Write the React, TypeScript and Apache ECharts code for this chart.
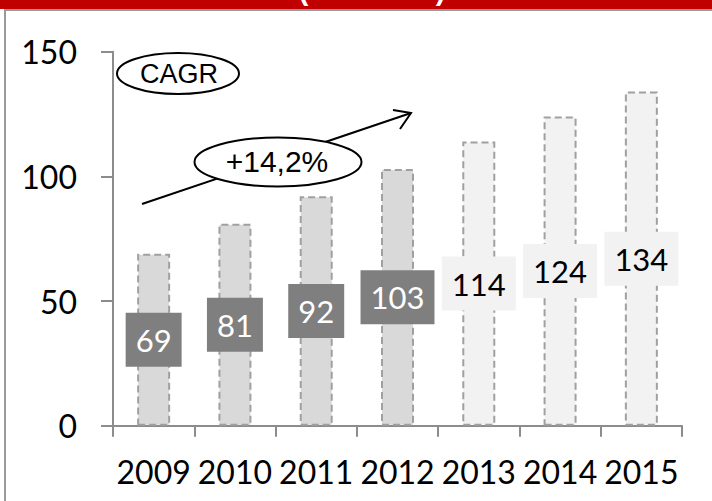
import React, { useEffect, useRef } from "react";
import * as echarts from "echarts";

const years = ["2009", "2010", "2011", "2012", "2013", "2014", "2015"];
const values = [69, 81, 92, 103, 114, 124, 134];
const isForecast = [false, false, false, false, true, true, true];
const yTicks = { min: 0, max: 150, interval: 50 };
const cagrTitle = "CAGR";
const cagrValue = "+14,2%";
const headerText = "(Mio. EUR)";

export default function App() {
  const ref = useRef<HTMLDivElement>(null);
  useEffect(() => {
    if (!ref.current) return;
    const chart = echarts.init(ref.current, null, { renderer: "svg" });
    const data = values.map((v, i) => {
      const f = isForecast[i];
      return {
        value: v,
        itemStyle: {
          color: f ? "#F2F2F2" : "#D9D9D9",
          borderColor: "#A0A0A0",
          borderWidth: 2,
          borderType: [7, 4],
        },
        label: {
          show: true,
          position: "inside",
          color: f ? "#000000" : "#FFFFFF",
          backgroundColor: f ? "#F2F2F2" : "#7F7F7F",
          padding: [9, 10],
          fontSize: 31,
          lineHeight: 36,
          fontFamily: "Lato",
        },
      };
    });
    chart.setOption({
      animation: false,
      grid: { left: 113, right: 30, top: 51.7, bottom: 75.3 },
      xAxis: {
        type: "category",
        data: years,
        axisLine: { lineStyle: { color: "#8C8C8C", width: 2 } },
        axisTick: { show: true, length: 11, lineStyle: { color: "#8C8C8C", width: 2 } },
        axisLabel: {
          color: "#000",
          fontSize: 32,
          fontFamily: "Lato",
          margin: 30,
          interval: 0,
          hideOverlap: false,
        },
      },
      yAxis: {
        type: "value",
        min: yTicks.min,
        max: yTicks.max,
        interval: yTicks.interval,
        axisLine: { show: true, lineStyle: { color: "#8C8C8C", width: 2 } },
        axisTick: { show: true, length: 12, lineStyle: { color: "#8C8C8C", width: 2 } },
        splitLine: { show: false },
        axisLabel: { color: "#000", fontSize: 32, fontFamily: "Lato", margin: 36 },
      },
      series: [
        {
          type: "bar",
          data,
          barWidth: 33,
        },
      ],
      graphic: [
        { type: "rect", shape: { x: 0, y: 0, width: 712, height: 9 }, style: { fill: "#C00000" }, z: 10 },
        {
          type: "text",
          x: 372,
          y: 4,
          style: {
            text: headerText,
            fill: "#FFFFFF",
            font: "bold 29px 'Liberation Sans'",
            textAlign: "center",
            textVerticalAlign: "bottom",
          },
          z: 11,
        },
        {
          type: "rect",
          shape: { x: 5, y: 10, width: 720, height: 510 },
          style: { fill: "none", stroke: "#9A9A9A", lineWidth: 2 },
          z: 10,
        },
        {
          type: "line",
          shape: { x1: 142, y1: 204, x2: 411, y2: 113 },
          style: { stroke: "#000", lineWidth: 2 },
          z: 10,
        },
        {
          type: "polyline",
          shape: { points: [[393, 110], [411, 113], [400, 129]] },
          style: { stroke: "#000", lineWidth: 2, fill: "none" },
          z: 10,
        },
        {
          type: "ellipse",
          shape: { cx: 178, cy: 73.5, rx: 61, ry: 20.5 },
          style: { fill: "#FFFFFF", stroke: "#000", lineWidth: 2 },
          z: 11,
        },
        {
          type: "text",
          x: 179,
          y: 74,
          style: {
            text: cagrTitle,
            fill: "#000",
            font: "27px 'Liberation Sans'",
            textAlign: "center",
            textVerticalAlign: "middle",
          },
          z: 12,
        },
        {
          type: "ellipse",
          shape: { cx: 278, cy: 162, rx: 83.5, ry: 24.5 },
          style: { fill: "#FFFFFF", stroke: "#000", lineWidth: 2 },
          z: 11,
        },
        {
          type: "text",
          x: 277,
          y: 161,
          style: {
            text: cagrValue,
            fill: "#000",
            font: "30px 'Liberation Sans'",
            textAlign: "center",
            textVerticalAlign: "middle",
          },
          z: 12,
        },
      ],
    });
    return () => chart.dispose();
  }, []);
  return (
    <div
      ref={ref}
      style={{ position: "fixed", left: 0, top: 0, width: 712, height: 501, background: "#fff" }}
    />
  );
}
